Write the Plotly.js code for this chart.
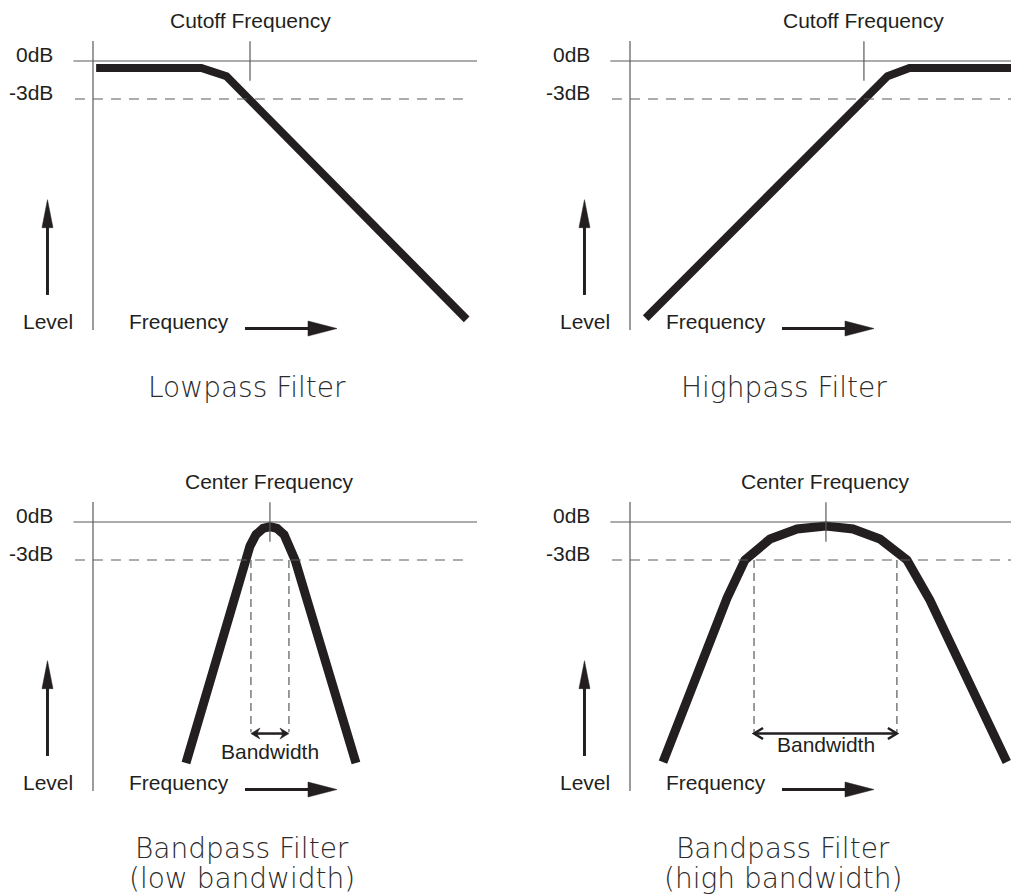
<!DOCTYPE html>
<html>
<head>
<meta charset="utf-8">
<script src="https://cdn.plot.ly/plotly-3.0.1.min.js"></script>
<style>
  html, body { margin: 0; padding: 0; background: #ffffff; }
  #chart { width: 1011px; height: 895px; }
</style>
</head>
<body>
<div id="chart"></div>
<script>
// ---------- data (frequency in relative units, level in dB) ----------
const lowpassFreq   = [0.2, 6.9, 8.5, 23.8];
const lowpassLevel  = [-0.55, -0.55, -1.2, -20.4];
const highpassFreq  = [1.0, 16.4, 17.8, 26.0];
const highpassLevel = [-20.3, -1.2, -0.55, -0.55];
const narrowFreq    = [5.92, 9.68, 10.0, 10.38, 10.83, 11.27, 11.72, 12.17, 12.55, 12.87, 16.75];
const narrowLevel   = [-19.03, -3.0, -1.9, -1.0, -0.5, -0.36, -0.5, -1.0, -1.9, -3.0, -19.03];
const wideFreq      = [2.10, 6.18, 7.32, 8.92, 10.64, 12.48, 14.2, 15.92, 17.64, 19.1, 24.0];
const wideLevel     = [-18.95, -6.0, -3.0, -1.34, -0.55, -0.32, -0.55, -1.34, -3.0, -6.16, -18.95];

const markerFreqs   = [10.0, 14.9, 11.27, 12.48];          // cutoff / center frequencies
const markerLabels  = ['Cutoff Frequency', 'Cutoff Frequency', 'Center Frequency', 'Center Frequency'];
const narrowBand    = [10.06, 12.48];                      // -3dB bandwidth edges
const wideBand      = [7.9, 17.0];
const refLevels     = [0, -3];
const refLabels     = ['0dB', '-3dB'];
const titleLines    = [['Lowpass Filter'], ['Highpass Filter'],
                       ['Bandpass Filter', '(low bandwidth)'], ['Bandpass Filter', '(high bandwidth)']];

// ---------- layout geometry ----------
const W = 1011, H = 895;
const PX = 15.7, PY = 12.667;   // pixels per unit
const panels = [
  {id: '',  left: 0,   right: 500,  top: 0,   bottom: 440, ox: 93,  oy: 61},
  {id: '2', left: 500, right: 1011, top: 0,   bottom: 440, ox: 630, oy: 61},
  {id: '3', left: 0,   right: 500,  top: 440, bottom: 895, ox: 93,  oy: 522},
  {id: '4', left: 500, right: 1011, top: 440, bottom: 895, ox: 630, oy: 522}
];

const INK = '#231f20', RULE = '#5a5a5a';
const TXT = {family: 'Liberation Sans, Arial, Helvetica, sans-serif', size: 21, color: INK};
const TITLEF = {family: 'DejaVu Sans, sans-serif', size: 28, color: '#2b2b2b', weight: 200};

const layout = {
  width: W, height: H, margin: {l: 0, r: 0, t: 0, b: 0},
  paper_bgcolor: '#ffffff', plot_bgcolor: '#ffffff', showlegend: false,
  shapes: [], annotations: []
};

const curves = [[lowpassFreq, lowpassLevel, 8], [highpassFreq, highpassLevel, 8],
                [narrowFreq, narrowLevel, 9], [wideFreq, wideLevel, 9]];
const data = [];

panels.forEach((p, i) => {
  const xa = 'x' + p.id, ya = 'y' + p.id;
  layout['xaxis' + p.id] = {
    domain: [p.left / W, p.right / W],
    range: [(p.left - p.ox) / PX, (p.right - p.ox) / PX],
    visible: false, fixedrange: true, anchor: ya
  };
  layout['yaxis' + p.id] = {
    domain: [1 - p.bottom / H, 1 - p.top / H],
    range: [(p.oy - p.bottom) / PY, (p.oy - p.top) / PY],
    visible: false, fixedrange: true, anchor: xa
  };
  const S = layout.shapes, A = layout.annotations;
  const line = (x0, y0, x1, y1, color, width, dash) =>
    S.push({type: 'line', xref: xa, yref: ya, x0, y0, x1, y1, line: {color, width, dash: dash || 'solid'}});
  const path = (pts, fill, lw) => {
    const d = pts.map((q, k) => (k ? 'L' : 'M') + q[0] + ',' + q[1]).join(' ') + (fill ? ' Z' : '');
    S.push({type: 'path', xref: xa, yref: ya, path: d,
            fillcolor: fill ? INK : 'rgba(0,0,0,0)', line: {color: INK, width: lw || 0.5}});
  };
  const right = i % 2 ? 30 : 24.46;

  // axes
  line(0, -21.24, 0, 1.58, RULE, 1.2);
  line(-1.25, refLevels[0], right, refLevels[0], RULE, 1.2);
  line(-1.15, refLevels[1], i % 2 ? 30 : 24.0, refLevels[1], RULE, 1.2, '10px,8px');
  // cutoff / center tick
  line(markerFreqs[i], -1.55, markerFreqs[i], 1.55, RULE, 1.2);

  // level arrow (up)
  const ax = -2.9;
  line(ax, -18.47, ax, -13.0, INK, 3);
  path([[ax, -10.95], [ax - 5.5 / PX, -10.95 - 28 / PY], [ax + 5.5 / PX, -10.95 - 28 / PY]], true);
  // frequency arrow (right)
  const fy = -21.12;
  line(9.68, fy, 13.8, fy, INK, 3);
  path([[15.54, fy], [15.54 - 29 / PX, fy + 7.5 / PY], [15.54 - 29 / PX, fy - 7.5 / PY]], true);

  // labels
  refLevels.forEach((lv, k) => A.push({xref: xa, yref: ya, x: -2.42, y: lv + 0.52, text: refLabels[k],
    showarrow: false, xanchor: 'right', yanchor: 'middle', font: TXT}));
  A.push({xref: xa, yref: ya, x: markerFreqs[i], y: 3.2, text: markerLabels[i], showarrow: false,
    xanchor: 'center', yanchor: 'middle', font: TXT});
  A.push({xref: xa, yref: ya, x: -2.87, y: -20.6, text: 'Level', showarrow: false,
    xanchor: 'center', yanchor: 'middle', font: TXT});
  A.push({xref: xa, yref: ya, x: 5.48, y: -20.55, text: 'Frequency', showarrow: false,
    xanchor: 'center', yanchor: 'middle', font: TXT});

  // titles
  const tx = [9.8, 9.8, 9.5, 9.75][i];
  titleLines[i].forEach((t, k) => A.push({xref: xa, yref: ya, x: tx, y: -25.75 - k * 2.42, text: t,
    showarrow: false, xanchor: 'center', yanchor: 'middle', font: TITLEF}));

  // bandwidth markers
  if (i >= 2) {
    const band = i === 2 ? narrowBand : wideBand;
    const by = -16.7;
    band.forEach(b => line(b, -3, b, -16.6, RULE, 1.2, '8px,5px'));
    const hl = 9 / PX, hh = 5.5 / PY;
    line(band[0] + (i === 2 ? hl * 0.6 : 0.05), by, band[1] - (i === 2 ? hl * 0.6 : 0.05), by, INK, 2.5);
    if (i === 2) {
      path([[band[0], by], [band[0] + hl, by + hh], [band[0] + hl * 0.65, by], [band[0] + hl, by - hh]], true);
      path([[band[1], by], [band[1] - hl, by + hh], [band[1] - hl * 0.65, by], [band[1] - hl, by - hh]], true);
    } else {
      S.push({type: 'path', xref: xa, yref: ya,
        path: `M${band[0] + hl},${by + hh} L${band[0]},${by} L${band[0] + hl},${by - hh}`,
        line: {color: INK, width: 2.5}});
      S.push({type: 'path', xref: xa, yref: ya,
        path: `M${band[1] - hl},${by + hh} L${band[1]},${by} L${band[1] - hl},${by - hh}`,
        line: {color: INK, width: 2.5}});
    }
    A.push({xref: xa, yref: ya, x: markerFreqs[i], y: i === 2 ? -18.15 : -17.6, text: 'Bandwidth',
      showarrow: false, xanchor: 'center', yanchor: 'middle', font: TXT});
  }

  // response curve
  const c = curves[i];
  data.push({type: 'scatter', mode: 'lines', x: c[0], y: c[1], xaxis: xa, yaxis: ya,
    line: {color: INK, width: c[2]}, hoverinfo: 'skip'});
});

Plotly.newPlot('chart', data, layout, {staticPlot: true, displayModeBar: false});
</script>
</body>
</html>
